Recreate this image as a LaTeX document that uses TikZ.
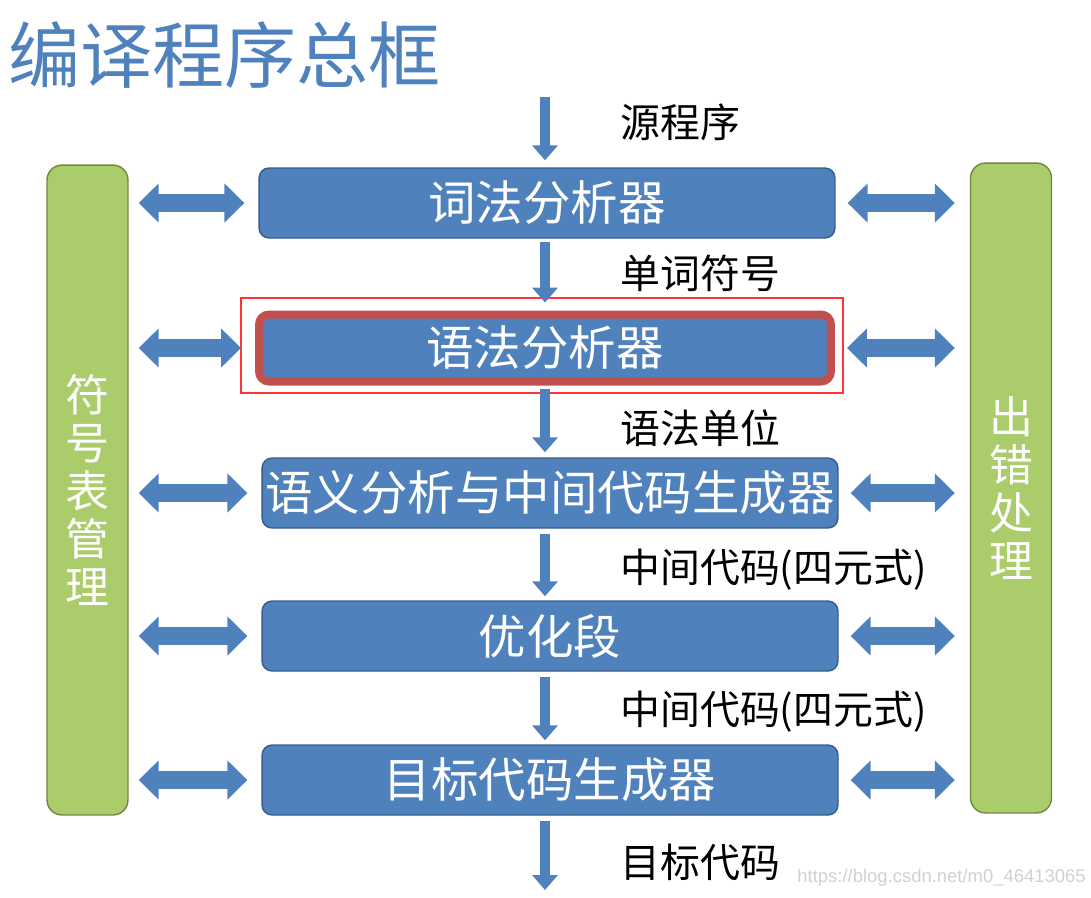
\documentclass[tikz,border=0pt]{standalone}
\usepackage{fontspec}
\setmainfont{Noto Sans CJK SC}
\newfontfamily\urlfont{Liberation Sans}
\usepackage{xcolor}
\usepackage{tikz}
\usetikzlibrary{positioning,arrows.meta}
\definecolor{boxblue}{RGB}{79,129,189}
\definecolor{boxedge}{RGB}{56,93,138}
\definecolor{barfill}{RGB}{170,204,106}
\definecolor{baredge}{RGB}{113,137,63}
\definecolor{boxred}{RGB}{192,80,77}
\definecolor{markred}{RGB}{255,51,51}
\tikzset{
    stage/.style={rectangle, rounded corners=0.2cm, draw=boxedge, line width=0.8pt, fill=boxblue,
        minimum width=11.52cm, minimum height=1.4cm, text=white, inner sep=0pt,
        font=\fontsize{27}{30}\selectfont},
    sidebar/.style={rectangle, rounded corners=0.3cm, draw=baredge, line width=0.8pt, fill=barfill,
        minimum width=1.62cm, minimum height=13cm, text=white, align=center,
        font=\fontsize{25}{27.2}\selectfont},
    flowlabel/.style={anchor=west, inner sep=0pt, font=\fontsize{22.7}{25}\selectfont},
    flow/.style={draw=boxblue, line width=0.2cm, -{Triangle[width=0.5cm, length=0.3cm]}},
    link/.style={draw=boxblue, line width=0.36cm,
        {Triangle[width=0.76cm, length=0.4cm]}-{Triangle[width=0.76cm, length=0.4cm]}}
}

\begin{document}
\begin{tikzpicture}[x=0.02cm, y=-0.02cm]
    \useasboundingbox (0,0) rectangle (1091,897);

    % title
    \node[anchor=west, inner sep=0pt, text=boxblue, font=\fontsize{41}{44}\selectfont] (title) at (8,55) {编译程序总框};

    % side bars
    \node[sidebar] (table) at (87.5,490) {符\\号\\表\\管\\理};
    \node[sidebar] (error) at (1011,488) {出\\错\\处\\理};

    % stages
    \node[stage] (lex) at (547,203) {词法分析器};
    \node[stage, draw=boxred, line width=0.16cm, minimum width=11.44cm, minimum height=1.34cm] (syn) at (545,348) {语法分析器};
    \node[stage] (sem) at (550,493) {语义分析与中间代码生成器};
    \node[stage] (opt) at (550,636) {优化段};
    \node[stage] (gen) at (550,780) {目标代码生成器};

    % highlight
    \draw[markred, line width=1.2pt] (241,298) rectangle (843,393);

    \coordinate (src) at (545,97);
    \coordinate (dst) at (545,890);

    % main flow
    \draw[flow, shorten >=0.14cm] (src) -- (lex.north -| src);
    \draw[flow, shorten <=0.06cm, shorten >=0.16cm] (lex.south -| src) -- (syn.north -| src);
    \draw[flow, shorten <=0.06cm, shorten >=0.1cm] (syn.south -| src) -- (sem.north -| src);
    \draw[flow, shorten <=0.1cm, shorten >=0.08cm] (sem.south -| src) -- (opt.north -| src);
    \draw[flow, shorten <=0.1cm, shorten >=0.08cm] (opt.south -| src) -- (gen.north -| src);
    \draw[flow, shorten <=0.1cm] (gen.south -| src) -- (dst);

    \node[flowlabel] (l1) at (620,122) {源程序};
    \node[flowlabel] (l2) at (620,273) {单词符号};
    \node[flowlabel] (l3) at (620,428) {语法单位};
    \node[flowlabel] (l4) at (620,570) {中间代码(四元式)};
    \node[flowlabel] (l5) at (620,712) {中间代码(四元式)};
    \node[flowlabel] (l6) at (620,862) {目标代码};

    % links to the side bars
    \foreach \s in {lex,syn,sem,opt,gen}{
        \draw[link, shorten <=0.2cm, shorten >=0.28cm] (table.east |- \s.west) -- (\s.west);
        \draw[link, shorten <=0.24cm, shorten >=0.3cm] (\s.east) -- (error.west |- \s.east);
    }

    \node[anchor=east, inner sep=0pt, text=black!18, font=\urlfont\fontsize{10.5}{12}\selectfont] (mark) at (1086,878) {https://blog.csdn.net/m0\_46413065};
\end{tikzpicture}
\end{document}
